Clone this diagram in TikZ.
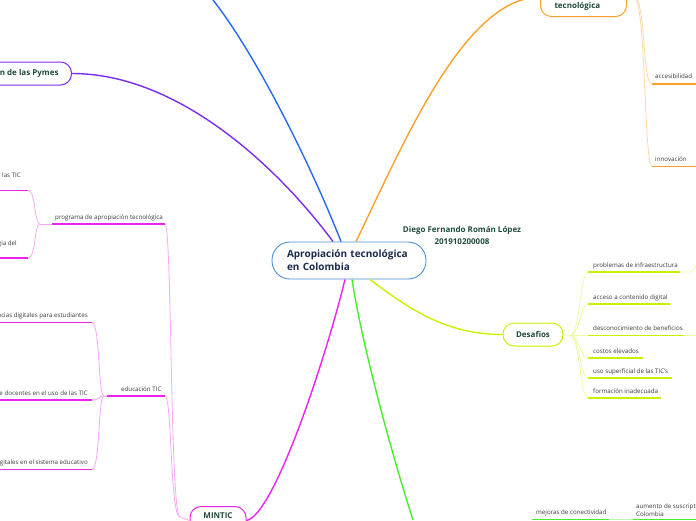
\documentclass[tikz,border=0pt]{standalone}
\usepackage{fontspec}
\setmainfont{Open Sans}
\usetikzlibrary{positioning,calc}
\definecolor{Ink}{HTML}{1E4A3C}
\definecolor{Navy}{HTML}{1C2B4C}
\definecolor{Gtxt}{HTML}{3A3A3A}
\definecolor{Hc}{HTML}{4A90D0}
\definecolor{Bc}{HTML}{2868F2}
\definecolor{Pc}{HTML}{7B2CF2}
\definecolor{Oc}{HTML}{F8A22C}
\definecolor{Ol}{HTML}{FCD8A4}
\definecolor{Yc}{HTML}{C9F200}
\definecolor{Yl}{HTML}{EDFBA6}
\definecolor{Gc}{HTML}{46EE2C}
\definecolor{Gl}{HTML}{B9F4B0}
\definecolor{Mc}{HTML}{EE22EE}
\definecolor{Ml}{HTML}{F8A8F8}
\tikzset{
  topic/.style={draw, rounded corners=11pt, line width=1pt, fill=white, inner sep=0pt, text=Ink, font=\bfseries\fontsize{8}{10}\selectfont},
  leaf/.style={text=Gtxt, inner sep=0pt, font=\fontsize{6.2}{7.7}\selectfont},
  trunk/.style={line width=1.4pt},
  twig/.style={line width=0.8pt},
  uline/.style={line width=1.6pt},
}

\begin{document}
\begin{tikzpicture}[x=1pt,y=-1pt]
  \useasboundingbox (0,0) rectangle (696,520);
  \clip (0,0) rectangle (696,520);
  % topics
  \node[topic, draw=Hc, line width=0.9pt, rounded corners=18pt, minimum width=154pt, minimum height=37pt, text width=124pt, align=left, text=Navy, font=\bfseries\fontsize{10}{13}\selectfont] (hub) at (349,260.5) {Apropiación tecnológica\\en Colombia};
  \node[font=\bfseries\fontsize{8}{12}\selectfont, text=Ink, align=center] (author) at (462,235) {Diego Fernando Román López\\201910200008};
  \node[topic, draw=Pc, anchor=east, inner xsep=13pt, minimum height=23pt] (pymes) at (72,73.5) {n de las Pymes};
  \node[topic, draw=Oc, anchor=base west, text width=58pt, inner xsep=14pt, inner ysep=5pt, text height=26pt, text depth=3pt] (tecno) at (540,8.5) {tecnológica};
  \node[topic, draw=Yc, minimum width=60pt, minimum height=23pt] (desafios) at (533,334.5) {Desafios};
  \node[topic, draw=Mc, anchor=base, minimum width=56pt, text height=6pt, text depth=10pt, inner ysep=6pt] (mintic) at (218,518.5) {MINTIC};

  % trunks
  \coordinate (bEnd) at (213,0);
  \coordinate (gEnd) at (413,520);
  \draw[trunk, Bc] ($(hub.north)+(-8,0)$) .. controls (315,175) and (260,60) .. (bEnd);
  \draw[trunk, Pc] ($(hub.north)+(-16,0)$) .. controls (280,170) and (180,73.5) .. (pymes.east);
  \draw[trunk, Oc] ($(hub.north)+(7,0)$) .. controls (405,140) and (465,-2.5) .. (tecno.west);
  \draw[trunk, Yc] ($(hub.south)+(21,0)$) .. controls (408,308) and (445,334.5) .. (desafios.west);
  \draw[trunk, Gc] ($(hub.south)+(3,0)$) .. controls (362,345) and (392,455) .. (gEnd);
  \draw[trunk, Mc] ($(hub.south)+(-4,0)$) .. controls (328,350) and (275,515) .. (mintic.east);

  % tecnologica
  \coordinate (oJ) at (634,-2.5);
  \coordinate (acc) at (652,84);
  \coordinate (inn) at (652,166.5);
  \draw[twig, Ol] (tecno.east) -- (oJ);
  \draw[twig, Ol] (oJ) .. controls (646,-2.5) and (642,84) .. (acc);
  \draw[twig, Ol] (oJ) .. controls (646,-2.5) and (644,166.5) .. (inn);
  \draw[uline, Oc] (acc) -- ++(50,0);
  \draw[uline, Oc] (inn) -- ++(50,0);
  \node[leaf, anchor=base west] (acc-t) at (655,78.5) {accesibilidad};
  \node[leaf, anchor=base west] (inn-t) at (655,161) {innovación};

  % desafios
  \coordinate (yJ) at (570,335.5);
  \draw[twig, Yl] (desafios.east) -- (yJ);
  \foreach \nm/\yy/\len in {pro/272/92, acs/304/82, des/335.5/96, cos/358/55, uso/378/84, for/398/73} {
    \coordinate (\nm) at (588,\yy);
    \draw[twig, Yl] (yJ) .. controls (580,335.5) and (580,\yy) .. (\nm);
    \draw[uline, Yc] (\nm) -- ++(\len,0);
  }
  \node[leaf, anchor=base west] (pro-t) at (593,267.5) {problemas de infraestructura};
  \node[leaf, anchor=base west] (acs-t) at (593,299) {acceso a contenido digital};
  \node[leaf, anchor=base west] (des-t) at (593,330) {desconocimiento de beneficios};
  \node[leaf, anchor=base west] (cos-t) at (593,353) {costos elevados};
  \node[leaf, anchor=base west] (uso-t) at (593,373) {uso superficial de las TIC's};
  \node[leaf, anchor=base west] (for-t) at (593,393.5) {formación inadecuada};
  \coordinate (proEnd) at (680,272);
  \coordinate (proOut) at (697,263);
  \coordinate (desEnd) at (684,335.5);
  \coordinate (desOut) at (697,335.5);
  \draw[twig, Yl] (proEnd) -- (688,272) .. controls (693,272) .. (proOut);
  \draw[twig, Yl] (desEnd) -- (desOut);

  % conectividad
  \coordinate (mej) at (532,519.5);
  \coordinate (mejE) at (609,519.5);
  \coordinate (aum) at (633,519.5);
  \coordinate (aumE) at (697,519.5);
  \draw[uline, Gc] (mej) -- (mejE);
  \draw[twig, Gl] (mejE) -- (aum);
  \draw[uline, Gc] (aum) -- (aumE);
  \node[leaf, anchor=base west] (mej-t) at (536,514) {mejoras de conectividad};
  \node[leaf, anchor=south west, align=left] (aum-t) at (636,516.5) {aumento de suscripto\\Colombia};

  % MINTIC
  \coordinate (mJ) at (180,517);
  \coordinate (prog) at (52,224);
  \coordinate (progE) at (165,224);
  \coordinate (edu) at (107,396);
  \coordinate (eduE) at (165,396);
  \draw[twig, Ml] (mintic.west) -- (mJ);
  \draw[twig, Ml] (mJ) .. controls (170,517) and (172,224) .. (progE);
  \draw[twig, Ml] (mJ) .. controls (170,517) and (172,396) .. (eduE);
  \draw[uline, Mc] (prog) -- (progE);
  \draw[uline, Mc] (edu) -- (eduE);
  \node[leaf, anchor=base west] (prog-t) at (55,219.5) {programa de apropiación tecnológica};
  \node[leaf, anchor=base west] (edu-t) at (121,391) {educación TIC};

  \coordinate (pJ) at (40,224);
  \coordinate (lasE) at (28,190.5);
  \coordinate (giaE) at (28,258);
  \draw[twig, Ml] (prog) -- (pJ);
  \draw[twig, Ml] (pJ) .. controls (34,224) and (36,190.5) .. (lasE);
  \draw[twig, Ml] (pJ) .. controls (34,224) and (36,258) .. (giaE);
  \draw[uline, Mc] (lasE) -- (-2,190.5);
  \draw[uline, Mc] (giaE) -- (-2,258);
  \node[leaf, anchor=base west] (las-t) at (2,177.5) {las TIC};
  \node[leaf, anchor=base east] (gia-t) at (17,245.5) {gia del};

  \coordinate (eJ) at (104,396);
  \draw[twig, Ml] (edu) -- (eJ);
  \foreach \nm/\yy in {est/322.5, doc/400, sis/469.5} {
    \coordinate (\nm) at (92,\yy);
    \draw[twig, Ml] (eJ) .. controls (98,396) and (100,\yy) .. (\nm);
    \draw[uline, Mc] (\nm) -- (-2,\yy);
  }
  \node[leaf, anchor=base east] (est-t) at (88,317.5) {ncias digitales para estudiantes};
  \node[leaf, anchor=base east] (doc-t) at (88,395.5) {de docentes en el uso de las TIC};
  \node[leaf, anchor=base east] (sis-t) at (88,464.5) {igitales en el sistema educativo};
\end{tikzpicture}
\end{document}
